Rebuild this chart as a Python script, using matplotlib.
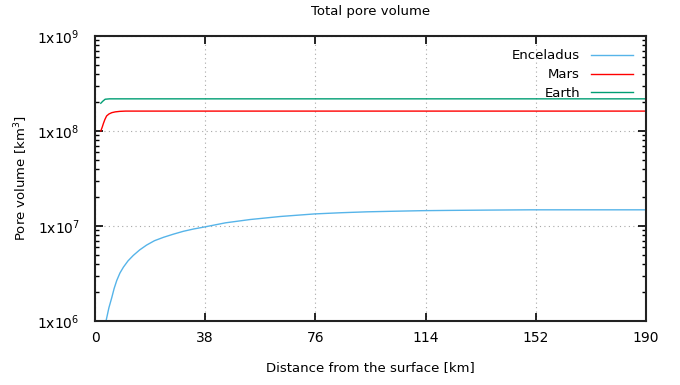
import matplotlib
matplotlib.use("Agg")
import matplotlib.pyplot as plt
from matplotlib.ticker import LogLocator, FixedLocator, NullFormatter

plt.rcParams['font.family'] = ['DejaVu Sans']

# Data
enc_x = [3.8, 4.8, 5.8, 6.6, 7.5, 8.6, 9.8, 11.4, 13.2, 15.4, 17.8, 20.5, 23.6, 27, 30.5, 34, 38,
         45, 53.5, 64, 75.7, 85, 93.8, 103, 113, 122.6, 135, 150, 170, 190]
enc_y = [1.0e6, 1.38e6, 1.77e6, 2.2e6, 2.67e6, 3.2e6, 3.69e6, 4.3e6, 4.9e6, 5.6e6, 6.3e6, 7.0e6, 7.6e6, 8.2e6,
         8.8e6, 9.3e6, 9.8e6, 1.08e7, 1.17e7, 1.26e7, 1.34e7, 1.38e7, 1.41e7, 1.43e7, 1.45e7, 1.46e7,
         1.47e7, 1.48e7, 1.48e7, 1.48e7]
mars_x = [2.0, 2.5, 2.9, 3.4, 4.0, 4.8, 5.8, 7.0, 8.6, 10.5, 13, 20, 190]
mars_y = [1.0e8, 1.1e8, 1.2e8, 1.32e8, 1.44e8, 1.51e8, 1.56e8, 1.59e8, 1.61e8, 1.62e8, 1.62e8, 1.62e8, 1.62e8]
earth_x = [2.0, 2.7, 3.5, 5, 190]
earth_y = [1.96e8, 2.06e8, 2.16e8, 2.18e8, 2.18e8]

xticks = [0, 38, 76, 114, 152, 190]
yticks = [1e6, 1e7, 1e8, 1e9]
ylabels = [r"1x10$^{6}$", r"1x10$^{7}$", r"1x10$^{8}$", r"1x10$^{9}$"]

fig = plt.figure(figsize=(6.8, 3.85), dpi=100)
ax = fig.add_axes([95/680, 1-321/385, (646-95)/680, (321-36)/385])

ax.plot(enc_x, enc_y, color='#56b4e9', lw=1.0, label='Enceladus')
ax.plot(mars_x, mars_y, color='#ff0000', lw=1.0, label='Mars')
ax.plot(earth_x, earth_y, color='#009e73', lw=1.0, label='Earth')

ax.set_yscale('log')
ax.set_xlim(0, 190)
ax.set_ylim(1e6, 1e9)
ax.set_xticks(xticks)
ax.set_xticklabels([str(t) for t in xticks])
ax.yaxis.set_major_locator(FixedLocator(yticks))
ax.set_yticklabels(ylabels)
ax.yaxis.set_minor_locator(LogLocator(base=10, subs=range(2, 10), numticks=20))
ax.yaxis.set_minor_formatter(NullFormatter())

ax.tick_params(axis='both', which='major', direction='in', length=6, width=1.2,
               top=True, right=True, labelsize=10)
ax.tick_params(axis='y', which='major', pad=11)
ax.tick_params(axis='x', which='major', pad=7)
ax.tick_params(axis='y', which='minor', direction='in', length=3, width=1.0, right=True)
ax.grid(True, which='major', color='#a8a8a8', linestyle=(0, (1, 3)), linewidth=0.8)
for s in ax.spines.values():
    s.set_linewidth(1.5)
    s.set_color('#222222')

ax.set_xlabel('Distance from the surface [km]', fontsize=9.5, labelpad=12)
ax.set_ylabel(r'Pore volume [km$^3$]', fontsize=9.5, labelpad=5)
ax.set_title('Total pore volume', fontsize=9.5, pad=15)

leg = ax.legend(loc='upper right', markerfirst=False, frameon=False, fontsize=9.5,
                handlelength=3.2, borderaxespad=0.6, labelspacing=0.45, handletextpad=0.8)
for t in leg.get_texts():
    t.set_ha('right')

fig.savefig('out.png', dpi=100)
